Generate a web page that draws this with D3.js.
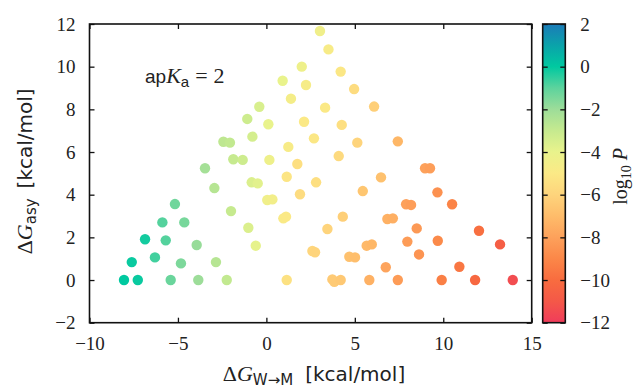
<!DOCTYPE html>
<html>
<head>
<meta charset="utf-8">
<script src="https://cdn.jsdelivr.net/npm/d3@7"></script>
<style>
  body { margin: 0; background: #fff; }
  .tick text { font-family: "Liberation Serif", serif; font-size: 19px; fill: #222; }
  .sans { font-family: "DejaVu Sans", sans-serif; }
  .lsans { font-family: "Liberation Sans", sans-serif; }
  .serif { font-family: "Liberation Serif", serif; }
</style>
</head>
<body>
<div id="chart"></div>
<script>
// points: x = dG(W->M), y = dG(asy), c = log10 P
var xVals = [2.0, 0.92, 2.24, 1.39, -0.40, -1.08, 0.11, 2.13, -0.79, -2.43,
  -2.06, 1.24, 1.75, -1.87, -1.34, 0.17, -3.47, 3.03, 3.51, 4.2,
  4.96, 3.32, 6.09, 4.26, 2.69, 5.14, 7.43, 4.09, 8.97, 9.25,
  1.15, -2.94, -0.83, -0.49, -5.17, 1.9, 0.05, 0.34, -2.0, 0.96,
  1.11, -5.88, -4.64, -1.02, -6.86, -5.69, -3.94, -0.6, -7.61, -6.3,
  -4.83, -2.85, -8.05, -7.27, -5.41, -3.85, -2.24, 1.15, 2.81, 6.48,
  5.45, 9.67, 7.9, 8.18, 10.5, 4.32, 6.84, 7.15, 3.45, 8.5,
  12.02, 7.97, 9.69, 13.21, 5.67, 5.96, 2.6, 2.75, 8.63, 4.69,
  5.01, 6.75, 10.91, 3.73, 3.84, 4.2, 5.82, 7.43, 9.91, 11.8, 13.93];
var yVals = [10.0, 9.34, 9.14, 8.5, 8.12, 7.55, 7.3, 7.42, 6.72, 6.48,
  6.44, 6.24, 5.44, 5.66, 5.63, 5.63, 5.24, 11.67, 10.81, 9.77,
  8.95, 8.08, 8.13, 7.27, 6.64, 6.44, 6.5, 5.81, 5.24, 5.24,
  4.84, 4.31, 4.58, 4.53, 3.56, 4.02, 3.75, 3.78, 3.23, 2.89,
  2.97, 2.7, 2.7, 2.45, 1.91, 1.86, 1.64, 1.61, 0.84, 1.06,
  0.78, 0.84, 0, 0, 0, 0, 0, 0, 4.58, 4.81,
  4.17, 4.11, 3.55, 3.52, 3.55, 2.97, 2.86, 2.89, 2.39, 2.42,
  2.31, 1.8, 1.84, 1.67, 1.61, 1.67, 1.36, 1.3, 1.2, 1.09,
  1.06, 0.6, 0.62, 0.03, -0.08, 0, 0, 0, 0, 0, 0];
var logP = [-4.3, -4.0, -4.7, -4.6, -3.5, -3.2, -4.0, -5.0, -3.4, -2.8,
  -2.9, -4.8, -5.5, -3.0, -3.2, -4.3, -2.2, -4.4, -4.8, -5.1,
  -5.6, -5.0, -6.2, -5.5, -5.1, -6.0, -7.2, -5.7, -8.0, -8.1,
  -5.2, -2.6, -3.6, -3.8, -1.3, -5.6, -4.4, -4.5, -3.0, -4.9,
  -5.0, -0.9, -1.4, -3.6, -0.2, -0.9, -1.9, -3.9, -0.1, -0.7,
  -1.5, -2.6, 0.0, -0.1, -1.2, -2.0, -2.9, -5.4, -5.5, -6.8,
  -6.6, -8.6, -8.0, -8.1, -9.1, -6.2, -7.4, -7.5, -6.0, -8.3,
  -9.9, -8.2, -8.9, -10.7, -7.1, -7.2, -5.9, -6.0, -8.5, -6.8,
  -6.9, -7.9, -9.6, -6.4, -6.4, -6.5, -7.4, -8.2, -9.3, -10.2, -11.4];

var xTicks = [-10, -5, 0, 5, 10, 15];
var yTicks = [-2, 0, 2, 4, 6, 8, 10, 12];
var cTicks = [2, 0, -2, -4, -6, -8, -10, -12];

// colormap stops
var cStops = [2, 1, 0, -1, -2, -3, -4, -5, -6, -7, -8, -9, -10, -11, -12];
var cColors = ["#1b7bb8", "#0aa3aa", "#00c9a0", "#5dd39d", "#9ddd99", "#c6ea8f",
  "#e9f38c", "#fbe986", "#fed47c", "#febc6a", "#fda15b", "#fb8748",
  "#f86c3f", "#f45848", "#f03c5b"];

var svgWidth = 634, svgHeight = 391;
var plot = { left: 89.5, right: 531.7, top: 24, bottom: 322.7 };
var cbar = { left: 542.7, right: 565.3 };

var svg = d3.select("#chart").append("svg")
  .attr("width", svgWidth)
  .attr("height", svgHeight);

var x = d3.scaleLinear().domain([-10, 15]).range([plot.left, plot.right]);
var y = d3.scaleLinear().domain([-2, 12]).range([plot.bottom, plot.top]);
var cy = d3.scaleLinear().domain([-12, 2]).range([plot.bottom, plot.top]);
var color = d3.scaleLinear().domain(cStops).range(cColors).interpolate(d3.interpolateRgb);

// points
svg.append("g").selectAll("circle")
  .data(xVals.map((d, i) => ({ x: d, y: yVals[i], c: logP[i] })))
  .enter()
  .append("circle")
  .attr("cx", d => x(d.x))
  .attr("cy", d => y(d.y))
  .attr("r", 5.2)
  .attr("fill", d => color(d.c));

// axes, ticks pointing inward on all sides
function styleAxis(g) {
  g.select(".domain").remove();
  g.selectAll(".tick line").attr("stroke", "#111").attr("stroke-width", 1.3);
}
svg.append("g").attr("transform", `translate(0,${plot.bottom})`)
  .call(d3.axisBottom(x).tickValues(xTicks).tickSize(-5).tickPadding(14))
  .call(styleAxis);
svg.append("g").attr("transform", `translate(0,${plot.top})`)
  .call(d3.axisTop(x).tickValues(xTicks).tickSize(-5).tickFormat(""))
  .call(styleAxis);
svg.append("g").attr("transform", `translate(${plot.left},0)`)
  .call(d3.axisLeft(y).tickValues(yTicks).tickSize(-5).tickPadding(14))
  .call(styleAxis);
svg.append("g").attr("transform", `translate(${plot.right},0)`)
  .call(d3.axisRight(y).tickValues(yTicks).tickSize(-5).tickFormat(""))
  .call(styleAxis);

svg.append("rect")
  .attr("x", plot.left).attr("y", plot.top)
  .attr("width", plot.right - plot.left).attr("height", plot.bottom - plot.top)
  .attr("fill", "none").attr("stroke", "#111").attr("stroke-width", 1.6);

// colorbar
var grad = svg.append("defs").append("linearGradient")
  .attr("id", "cgrad").attr("x1", 0).attr("y1", 1).attr("x2", 0).attr("y2", 0);
grad.selectAll("stop")
  .data(cStops.slice().reverse())
  .enter().append("stop")
  .attr("offset", d => (d + 12) / 14)
  .attr("stop-color", d => color(d));

svg.append("rect")
  .attr("x", cbar.left).attr("y", plot.top)
  .attr("width", cbar.right - cbar.left).attr("height", plot.bottom - plot.top)
  .attr("fill", "url(#cgrad)");

svg.append("g").attr("transform", `translate(${cbar.left},0)`)
  .call(d3.axisRight(cy).tickValues(cTicks).tickSize(5).tickFormat(""))
  .call(styleAxis);
svg.append("g").attr("transform", `translate(${cbar.right},0)`)
  .call(d3.axisRight(cy).tickValues(cTicks).tickSize(-5).tickPadding(15))
  .call(styleAxis);

svg.append("rect")
  .attr("x", cbar.left).attr("y", plot.top)
  .attr("width", cbar.right - cbar.left).attr("height", plot.bottom - plot.top)
  .attr("fill", "none").attr("stroke", "#111").attr("stroke-width", 1.6);

// annotation apKa = 2
var ann = svg.append("text").attr("x", 145).attr("y", 83)
  .attr("font-size", 22).attr("fill", "#222");
ann.append("tspan").attr("class", "lsans").attr("font-size", 19).text("ap");
ann.append("tspan").attr("class", "serif").attr("font-style", "italic").text("K");
ann.append("tspan").attr("class", "lsans").attr("font-size", 15).attr("dy", 4).text("a");
ann.append("tspan").attr("class", "serif").attr("dy", -4).attr("dx", 6).text("=");
ann.append("tspan").attr("class", "serif").attr("dx", 6).text("2");

// x label
var xl = svg.append("text").attr("x", 314).attr("y", 381)
  .attr("text-anchor", "middle").attr("font-size", 22).attr("fill", "#222");
xl.append("tspan").attr("class", "serif").text("Δ");
xl.append("tspan").attr("class", "serif").attr("font-style", "italic").text("G");
xl.append("tspan").attr("class", "sans").attr("font-size", 15).attr("dy", 4).text("W→M");
xl.append("tspan").attr("class", "sans").attr("font-size", 20).attr("dy", -4).attr("dx", 12).text("[kcal/mol]");

// y label
var yl = svg.append("text")
  .attr("transform", `translate(32,${(plot.top + plot.bottom) / 2 - 2}) rotate(-90)`)
  .attr("text-anchor", "middle").attr("font-size", 22).attr("fill", "#222");
yl.append("tspan").attr("class", "serif").text("Δ");
yl.append("tspan").attr("class", "serif").attr("font-style", "italic").text("G");
yl.append("tspan").attr("class", "sans").attr("font-size", 15).attr("dy", 4).text("asy");
yl.append("tspan").attr("class", "sans").attr("font-size", 20).attr("dy", -4).attr("dx", 10).text("[kcal/mol]");

// colorbar label
var cl = svg.append("text")
  .attr("transform", `translate(627,${(plot.top + plot.bottom) / 2 + 3}) rotate(-90)`)
  .attr("text-anchor", "middle").attr("font-size", 20).attr("fill", "#222")
  .attr("class", "serif");
cl.append("tspan").text("log");
cl.append("tspan").attr("font-size", 14).attr("dy", 4).text("10");
cl.append("tspan").attr("font-style", "italic").attr("dy", -4).text(" P");
</script>
</body>
</html>
